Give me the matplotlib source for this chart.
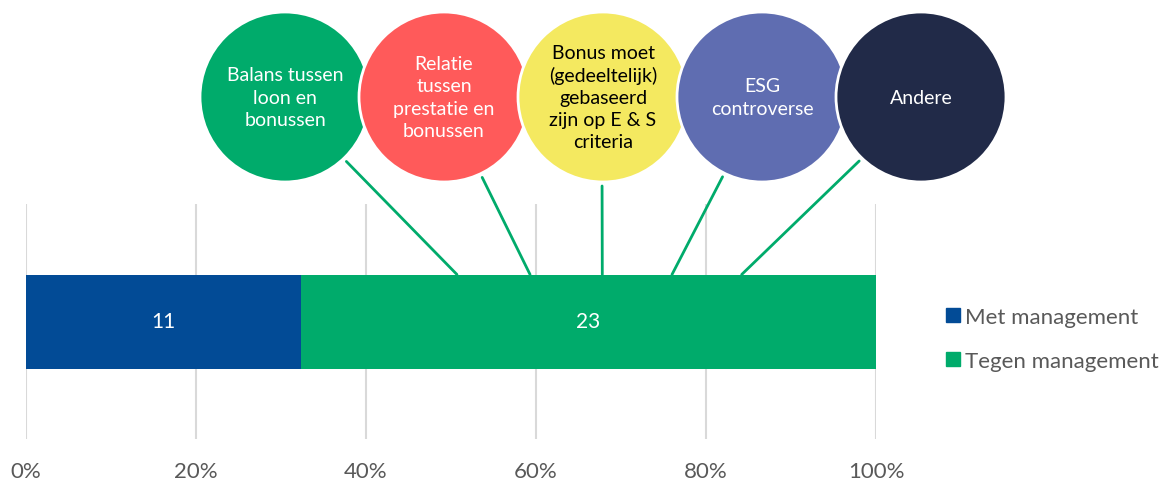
import numpy as np
import matplotlib
matplotlib.use("Agg")
import matplotlib.pyplot as plt
from matplotlib.patches import Circle, ConnectionPatch
from matplotlib.lines import Line2D

# votes on the remuneration resolutions
series = ["Met management", "Tegen management"]
votes = [11, 23]
series_colors = ["#024B96", "#00AB6B"]

# reasons for voting against, with the point on the bar each callout points to (%)
reasons = [
    "Balans tussen\nloon en\nbonussen",
    "Relatie\ntussen\nprestatie en\nbonussen",
    "Bonus moet\n(gedeeltelijk)\ngebaseerd\nzijn op E & S\ncriteria",
    "ESG\ncontroverse",
    "Andere",
]
reason_pct = [50.7, 59.3, 67.8, 76.0, 84.2]
reason_colors = ["#00AB6B", "#FF5A5A", "#F4E960", "#5F6DB1", "#212A48"]
reason_text_colors = ["white", "white", "black", "white", "white"]
reason_angles = [46.4, 64.6, 90.6, 116.3, 134.0]

ticks = [0, 20, 40, 60, 80, 100]
tick_labels = [f"{t}%" for t in ticks]

plt.rcParams["font.family"] = ["Lato", "DejaVu Sans"]
W, H = 1166, 481
fig = plt.figure(figsize=(W / 100, H / 100), dpi=100)

ax = fig.add_axes([26 / W, (H - 440) / H, 850 / W, 235 / H])
pct = np.array(votes) / sum(votes) * 100
left = 0
for name, p, v, c in zip(series, pct, votes, series_colors):
    ax.barh(0, p, left=left, height=0.4, color=c, label=name, zorder=2)
    ax.text(left + p / 2, 0, str(v), ha="center", va="center", color="white", fontsize=15, zorder=3)
    left += p
ax.set_xlim(0, 100)
ax.set_ylim(-0.5, 0.5)
ax.set_xticks(ticks)
ax.set_xticklabels(tick_labels)
ax.set_yticks([])
ax.tick_params(axis="x", length=0, pad=16, labelsize=16, labelcolor="#595959")
ax.grid(axis="x", color="#D9D9D9", lw=1.5, zorder=0)
for s in ax.spines.values():
    s.set_visible(False)

# callout circles in pixel space on top of everything
ov = fig.add_axes([0, 0, 1, 1], zorder=5)
ov.set_xlim(0, W)
ov.set_ylim(H, 0)
ov.axis("off")
ov.patch.set_visible(False)

cx0, cy, r, step = 285, 98, 85, 159
for i, (txt, p, c, tc, a) in enumerate(zip(reasons, reason_pct, reason_colors, reason_text_colors, reason_angles)):
    cx = cx0 + i * step
    ov.add_patch(Circle((cx, cy), r, facecolor=c, edgecolor="white", lw=2, zorder=2 + i))
    ov.text(cx, cy, txt, ha="center", va="center", color=tc, fontsize=14, linespacing=1.36, zorder=2 + i)
    sx = cx + (r + 4) * np.cos(np.radians(a))
    sy = cy + (r + 4) * np.sin(np.radians(a))
    con = ConnectionPatch(xyA=(sx, sy), coordsA=ov.transData, xyB=(p, 0.2), coordsB=ax.transData,
                          color="#00AB6B", lw=2)
    fig.add_artist(con)

handles = [Line2D([], [], marker="s", ls="", markersize=10, color=c) for c in series_colors]
fig.legend(handles, series, loc="center left", bbox_to_anchor=(924 / W, (H - 340) / H),
           frameon=False, fontsize=16, labelcolor="#595959", handlelength=0.8,
           handletextpad=0.15, labelspacing=1.1)

fig.savefig("out.png", dpi=100)
